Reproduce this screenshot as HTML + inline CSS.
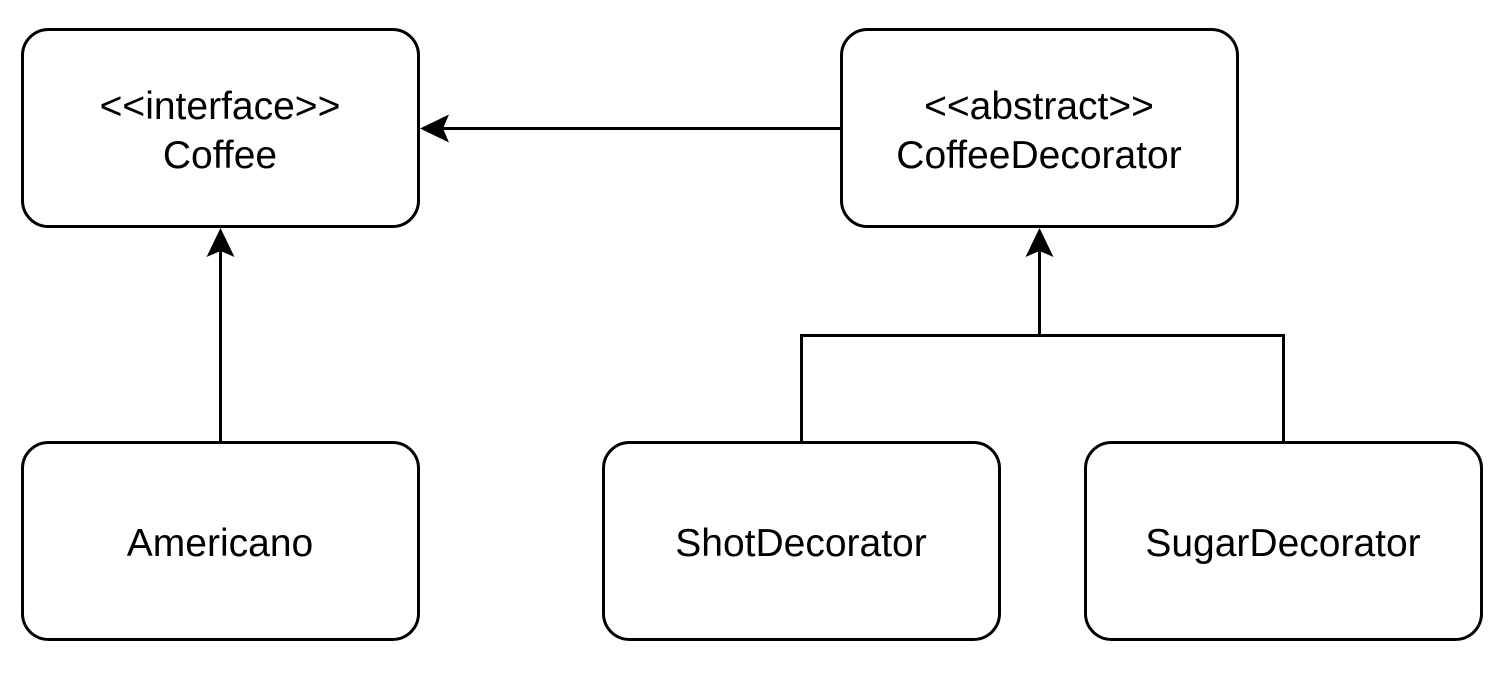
<!DOCTYPE html>
<html><head><meta charset="utf-8"><style>
html,body{margin:0;padding:0;background:#fff;}
svg{display:block;}
text{font-family:"Liberation Sans",Arial,sans-serif;font-size:39px;fill:#000;}
</style></head><body>
<svg width="1506" height="676" viewBox="0 0 1506 676" xmlns="http://www.w3.org/2000/svg">
<g fill="#fff" stroke="#000" stroke-width="3">
<rect x="22.5" y="29.5" width="396" height="197" rx="26"/>
<rect x="841.5" y="29.5" width="396" height="197" rx="26"/>
<rect x="22.5" y="442.5" width="396" height="197" rx="26"/>
<rect x="603.5" y="442.5" width="396" height="197" rx="26"/>
<rect x="1085.5" y="442.5" width="396" height="197" rx="26"/>
</g>
<g fill="none" stroke="#000" stroke-width="3">
<line x1="841" y1="128.5" x2="440" y2="128.5"/>
<line x1="220.5" y1="442" x2="220.5" y2="250"/>
<line x1="1039.5" y1="335" x2="1039.5" y2="250"/>
<polyline points="801.5,442 801.5,335.5 1283.5,335.5 1283.5,442"/>
</g>
<g fill="#000">
<polygon points="420,128.5 449,114.5 443,128.5 449,142.5"/>
<polygon points="220.5,228 206.5,257 220.5,251 234.5,257"/>
<polygon points="1039.5,228 1025.5,257 1039.5,251 1053.5,257"/>
</g>
<g text-anchor="middle">
<text x="220" y="119">&lt;&lt;interface&gt;&gt;</text>
<text x="220" y="168">Coffee</text>
<text x="1039" y="119">&lt;&lt;abstract&gt;&gt;</text>
<text x="1039" y="168">CoffeeDecorator</text>
<text x="220" y="556">Americano</text>
<text x="801" y="556">ShotDecorator</text>
<text x="1283" y="556">SugarDecorator</text>
</g>
</svg>
</body></html>
